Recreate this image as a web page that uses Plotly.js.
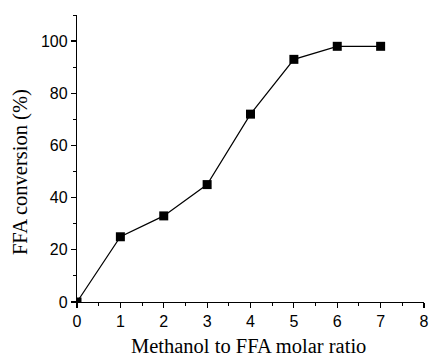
<!DOCTYPE html>
<html>
<head>
<meta charset="utf-8">
<script src="https://cdn.plot.ly/plotly-3.0.1.min.js"></script>
<style>html,body{margin:0;padding:0;background:#fff;}#chart{width:430px;height:356px;}</style>
</head>
<body>
<div id="chart"></div>
<script>
var ratio = [0, 1, 2, 3, 4, 5, 6, 7];
var conversion = [0, 25, 33, 45, 72, 93, 98, 98];
var xTicks = [0, 1, 2, 3, 4, 5, 6, 7, 8];
var yTicks = [0, 20, 40, 60, 80, 100];
var xTitle = 'Methanol to FFA molar ratio';
var yTitle = 'FFA conversion (%)';

var trace = {
  x: ratio,
  y: conversion,
  type: 'scatter',
  mode: 'lines+markers',
  line: {color: '#000', width: 1.2},
  marker: {symbol: 'square', size: 9, color: '#000'},
  cliponaxis: true,
  showlegend: false
};

var titleFont = {family: 'Liberation Serif, Times New Roman, serif', size: 20.5, color: '#000'};

var layout = {
  width: 430,
  height: 356,
  margin: {l: 77, r: 6, t: 15, b: 54},
  paper_bgcolor: '#fff',
  plot_bgcolor: '#fff',
  xaxis: {
    range: [0, 8],
    tickvals: xTicks,
    ticktext: xTicks.map(String),
    showgrid: false,
    zeroline: false,
    showline: true,
    linecolor: '#000',
    linewidth: 1.2,
    ticks: 'outside',
    ticklen: 5,
    tickwidth: 1.2,
    tickcolor: '#000',
    minor: {dtick: 0.5, tick0: 0, ticks: 'outside', ticklen: 3, tickwidth: 1, tickcolor: '#000', showgrid: false},
    tickfont: {family: 'Liberation Sans, Arial, sans-serif', size: 16, color: '#000'},
    fixedrange: true
  },
  yaxis: {
    range: [0, 110],
    tickvals: yTicks,
    ticktext: yTicks.map(String),
    showgrid: false,
    zeroline: false,
    showline: true,
    linecolor: '#000',
    linewidth: 1.2,
    ticks: 'outside',
    ticklen: 5,
    tickwidth: 1.2,
    tickcolor: '#000',
    minor: {dtick: 10, tick0: 0, ticks: 'outside', ticklen: 3, tickwidth: 1, tickcolor: '#000', showgrid: false},
    tickfont: {family: 'Liberation Sans, Arial, sans-serif', size: 16, color: '#000'},
    fixedrange: true
  },
  annotations: [
    {text: xTitle, xref: 'paper', yref: 'paper', x: 0.495, y: 0, xanchor: 'center', yanchor: 'middle', yshift: -44, showarrow: false, font: titleFont},
    {text: yTitle, xref: 'paper', yref: 'paper', x: 0, y: 0.451, xanchor: 'center', yanchor: 'middle', xshift: -56.5, textangle: -90, showarrow: false, font: titleFont}
  ]
};

Plotly.newPlot('chart', [trace], layout, {displayModeBar: false, staticPlot: true});
</script>
</body>
</html>
